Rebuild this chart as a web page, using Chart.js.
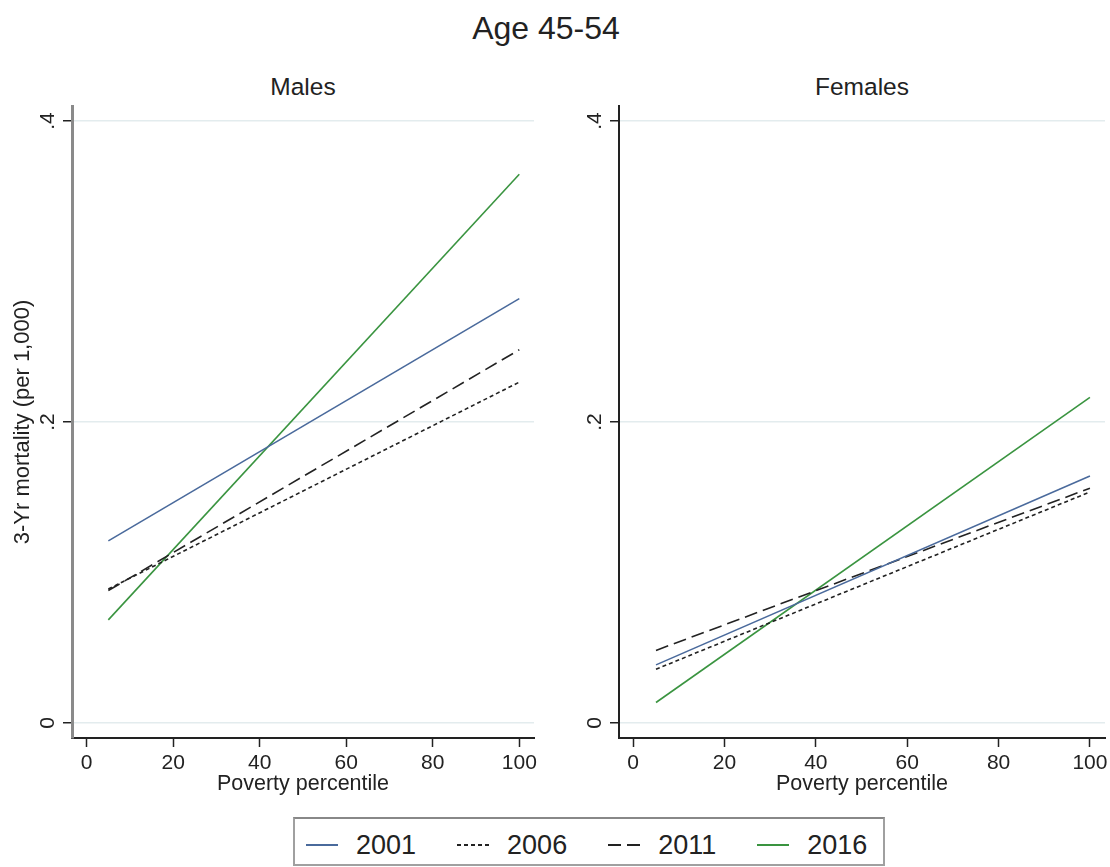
<!DOCTYPE html>
<html>
<head>
<meta charset="utf-8">
<script src="https://cdn.jsdelivr.net/npm/chart.js@4.4.0/dist/chart.umd.min.js"></script>
<style>
  html, body { margin: 0; padding: 0; background: #fff; }
  body {
    width: 1110px; height: 867px; position: relative; overflow: hidden;
    font-family: "Liberation Sans", Arial, sans-serif; color: #222;
  }
  .titulo {
    position: absolute; top: 12px; left: 546px; transform: translateX(-50%);
    font-size: 32px; line-height: 32px; white-space: nowrap;
  }
  .painel-titulo {
    position: absolute; top: 75px; transform: translateX(-50%);
    font-size: 24.5px; line-height: 24.5px; white-space: nowrap;
  }
  canvas { position: absolute; top: 0; }
  #legenda {
    position: absolute; left: 293px; top: 817px; width: 592px; height: 49px;
    box-sizing: border-box; border: 2px solid #a0a0a0; border-top-color: #888;
    display: flex; align-items: center; padding: 7px 0 0 11px;
  }
  .item { display: flex; align-items: center; margin-right: 41px; }
  .amostra { width: 32px; height: 2px; margin-right: 18px; }
  .rotulo { font-size: 27px; line-height: 27px; }
</style>
</head>
<body>
  <div class="titulo">Age 45-54</div>
  <div class="painel-titulo" style="left:303px">Males</div>
  <div class="painel-titulo" style="left:862px">Females</div>
  <canvas id="graficoHomens" width="560" height="810" style="left:0"></canvas>
  <canvas id="graficoMulheres" width="552" height="810" style="left:560px"></canvas>
  <div id="legenda"></div>

<script>
  // Dados (mortalidade em 3 anos, por 1.000)
  const anos = ["2001", "2006", "2011", "2016"];
  const percentis = [5, 100];

  const homens2001 = [0.121, 0.282];
  const homens2006 = [0.089, 0.2265];
  const homens2011 = [0.088, 0.248];
  const homens2016 = [0.0685, 0.3646];

  const mulheres2001 = [0.0386, 0.1641];
  const mulheres2006 = [0.0357, 0.1535];
  const mulheres2011 = [0.0482, 0.156];
  const mulheres2016 = [0.0136, 0.2164];

  const ticksX = [0, 20, 40, 60, 80, 100];
  const ticksY = [0, 0.2, 0.4];
  const rotulosY = ["0", ".2", ".4"];

  // Estilo de cada ano (cor e tracejado)
  const cores = ["#4a6a9c", "#222222", "#222222", "#3a9440"];
  const tracos = [[], [4, 3], [13, 6], []];

  Chart.defaults.font.family = '"Liberation Sans", Arial, sans-serif';
  Chart.defaults.color = "#222";

  // Rótulos do eixo Y girados, como no Stata
  const rotulosYPlugin = {
    id: "rotulosY",
    afterDraw(chart) {
      const escala = chart.scales.y;
      const ctx = chart.ctx;
      ctx.save();
      ctx.font = '21px "Liberation Sans", Arial, sans-serif';
      ctx.fillStyle = "#222";
      ctx.textAlign = "center";
      ctx.textBaseline = "middle";
      escala.ticks.forEach((tick, i) => {
        const y = escala.getPixelForValue(tick.value);
        ctx.save();
        ctx.translate(escala.right - 24, y);
        ctx.rotate(-Math.PI / 2);
        ctx.fillText(rotulosY[i], 0, 0);
        ctx.restore();
      });
      ctx.restore();
    }
  };

  function montarSeries(valores) {
    return valores.map((serie, i) => ({
      label: anos[i],
      data: percentis.map((p, j) => ({ x: p, y: serie[j] })),
      borderColor: cores[i],
      borderDash: tracos[i],
      borderWidth: 1.6,
      pointRadius: 0,
      showLine: true,
      tension: 0,
      fill: false
    }));
  }

  function criarGrafico(id, valores, cfg) {
    return new Chart(document.getElementById(id), {
      type: "scatter",
      data: { datasets: montarSeries(valores) },
      plugins: [rotulosYPlugin],
      options: {
        responsive: false,
        animation: false,
        devicePixelRatio: 1,
        layout: { padding: { left: 0, top: 106, right: cfg.direita, bottom: 0 } },
        plugins: { legend: { display: false }, tooltip: { enabled: false } },
        scales: {
          x: {
            type: "linear",
            min: cfg.xMin,
            max: cfg.xMax,
            afterBuildTicks: (s) => { s.ticks = ticksX.map(v => ({ value: v })); },
            afterFit: (s) => { s.height = 72; },
            ticks: { autoSkip: false, padding: 4, font: { size: 21 }, callback: (v) => String(v) },
            grid: { drawOnChartArea: false, drawTicks: true, tickLength: 9, tickColor: "#222", tickWidth: 1.5 },
            border: { display: true, color: "#222", width: 2 },
            title: { display: true, text: "Poverty percentile", font: { size: 21.5 }, padding: { top: 0, bottom: 13 } }
          },
          y: {
            min: -0.01,
            max: 0.41,
            afterBuildTicks: (s) => { s.ticks = ticksY.map(v => ({ value: v })); },
            afterFit: (s) => { s.width = cfg.larguraY; },
            ticks: { display: false },
            grid: { color: "#e3ecee", lineWidth: 1.5, drawTicks: true, tickLength: 9, tickColor: "#222", tickWidth: 1.5 },
            border: { display: true, color: cfg.corEixoY, width: cfg.larguraEixoY },
            title: {
              display: cfg.tituloY,
              text: "3-Yr mortality (per 1,000)",
              font: { size: 22 },
              padding: { top: 10, bottom: 0 }
            }
          }
        }
      }
    });
  }

  criarGrafico("graficoHomens", [homens2001, homens2006, homens2011, homens2016], {
    direita: 26, xMin: -3.4, xMax: 103.4, larguraY: 72,
    corEixoY: "#8a8a8a", larguraEixoY: 3, tituloY: true
  });

  criarGrafico("graficoMulheres", [mulheres2001, mulheres2006, mulheres2011, mulheres2016], {
    direita: 7, xMin: -3.1, xMax: 103.3, larguraY: 59,
    corEixoY: "#222", larguraEixoY: 2, tituloY: false
  });

  // Legenda em HTML
  const legenda = document.getElementById("legenda");
  anos.forEach((ano, i) => {
    const item = document.createElement("div");
    item.className = "item";
    const amostra = document.createElement("div");
    amostra.className = "amostra";
    if (tracos[i].length) {
      const [on, off] = tracos[i];
      amostra.style.background =
        `repeating-linear-gradient(to right, ${cores[i]} 0 ${on}px, transparent ${on}px ${on + off}px)`;
    } else {
      amostra.style.background = cores[i];
    }
    const rotulo = document.createElement("span");
    rotulo.className = "rotulo";
    rotulo.textContent = ano;
    item.appendChild(amostra);
    item.appendChild(rotulo);
    legenda.appendChild(item);
  });
</script>
</body>
</html>
